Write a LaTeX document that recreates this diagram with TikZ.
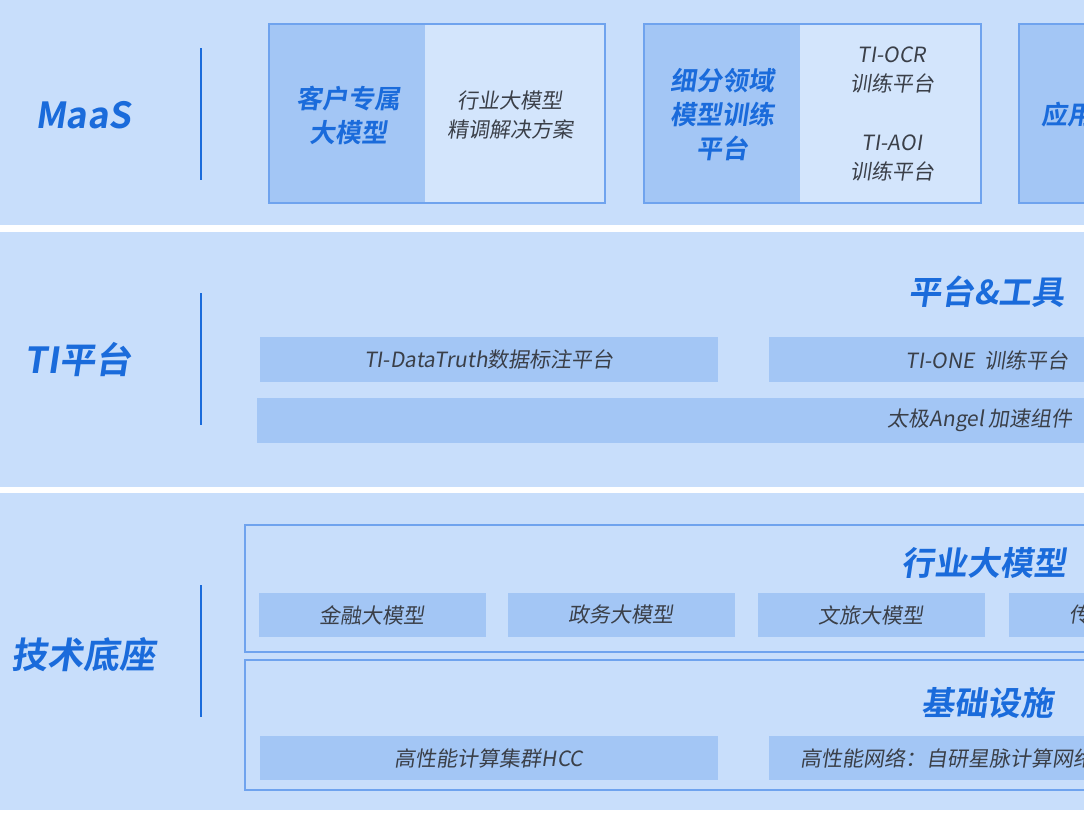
\documentclass[tikz,border=0pt]{standalone}
\usepackage{fontspec}
\setmainfont[FakeSlant=0.15]{Noto Sans CJK SC}
\newfontfamily\boldcjk[FakeSlant=0.15,UprightFont=* Bold]{Noto Sans CJK SC}
\usetikzlibrary{positioning}
\definecolor{bandbg}{HTML}{C8DEFB}
\definecolor{tilebg}{HTML}{A3C6F5}
\definecolor{edgeblue}{HTML}{6FA3EE}
\definecolor{titleblue}{HTML}{1A6BDB}
\definecolor{bodygray}{HTML}{3A3F48}
\tikzset{
  band/.style={fill=bandbg,draw=none},
  tile/.style={fill=tilebg,draw=none},
  frame/.style={draw=edgeblue,line width=1.2pt},
  sep/.style={draw=titleblue,line width=1.5pt},
  head/.style={text=titleblue,font=\boldcjk\fontsize{36}{40}\selectfont,align=center},
  title/.style={text=titleblue,font=\boldcjk\fontsize{26}{34}\selectfont,align=center},
  big/.style={text=titleblue,font=\boldcjk\fontsize{33}{36}\selectfont},
  body/.style={text=bodygray,font=\fontsize{21}{29}\selectfont,align=center}
}
\begin{document}
\begin{tikzpicture}[x=1pt,y=-1pt]
    \useasboundingbox (0,0) rectangle (1084,814);
    \clip (0,0) rectangle (1084,814);
    \fill[white] (0,0) rectangle (1084,814);
    % bands
    \fill[band] (0,0) rectangle (1084,225);
    \fill[band] (0,232) rectangle (1084,487);
    \fill[band] (0,493) rectangle (1084,810);
    \draw[sep] (201,48) -- (201,180);
    \draw[sep] (201,293) -- (201,425);
    \draw[sep] (201,585) -- (201,717);
    \node[head] (maas) at (83,115) {MaaS};
    \node[head] (ti) at (78,360) {TI平台};
    \node[head] (base) at (83,655) {技术底座};
    % MaaS
    \fill[band,fill=bandbg!80!white] (269,24) rectangle (605,203);
    \fill[tile] (269,24) rectangle (425,203);
    \draw[frame] (269,24) rectangle (605,203);
    \node[title] (own) at (348,115) {客户专属\\大模型};
    \node[body] (tune) at (510,115) {行业大模型\\精调解决方案};
    \fill[band,fill=bandbg!80!white] (644,24) rectangle (981,203);
    \fill[tile] (644,24) rectangle (800,203);
    \draw[frame] (644,24) rectangle (981,203);
    \node[title] (train) at (722,115) {细分领域\\模型训练\\平台};
    \node[body] (ocr) at (892,70) {TI-OCR\\训练平台};
    \node[body] (aoi) at (892,158) {TI-AOI\\训练平台};
    \fill[tile] (1019,24) rectangle (1100,203);
    \draw[frame] (1019,24) rectangle (1100,203);
    \node[title,anchor=west] (app) at (1038,115) {应用};
    % TI platform
    \node[big,anchor=west] (tools) at (905,292) {平台\&工具};
    \fill[tile] (260,337) rectangle (718,382);
    \node[body] (truth) at (489,360) {TI-DataTruth数据标注平台};
    \fill[tile] (769,337) rectangle (1100,382);
    \node[body,anchor=west] (one) at (902,360) {TI-ONE\ \ 训练平台};
    \fill[tile] (257,398) rectangle (1100,443);
    \node[body,anchor=west] (angel) at (884,420) {太极Angel 加速组件};
    % base
    \draw[frame] (245,525) rectangle (1100,652);
    \node[big,anchor=west] (industry) at (898,563) {行业大模型};
    \foreach \x/\txt [count=\i] in {259/金融大模型,508/政务大模型,758/文旅大模型,1009/传媒大模型} {
        \fill[tile] (\x,593) rectangle ++(227,44);
        \node[body] (m\i) at (\x+113,615) {\txt};
    }
    \draw[frame] (245,660) rectangle (1100,790);
    \node[big,anchor=west] (infra) at (918,703) {基础设施};
    \fill[tile] (260,736) rectangle (718,780);
    \node[body] (hcc) at (489,758) {高性能计算集群HCC};
    \fill[tile] (769,736) rectangle (1100,780);
    \node[body,anchor=west] (net) at (797,758) {高性能网络：自研星脉计算网络};
\end{tikzpicture}
\end{document}
